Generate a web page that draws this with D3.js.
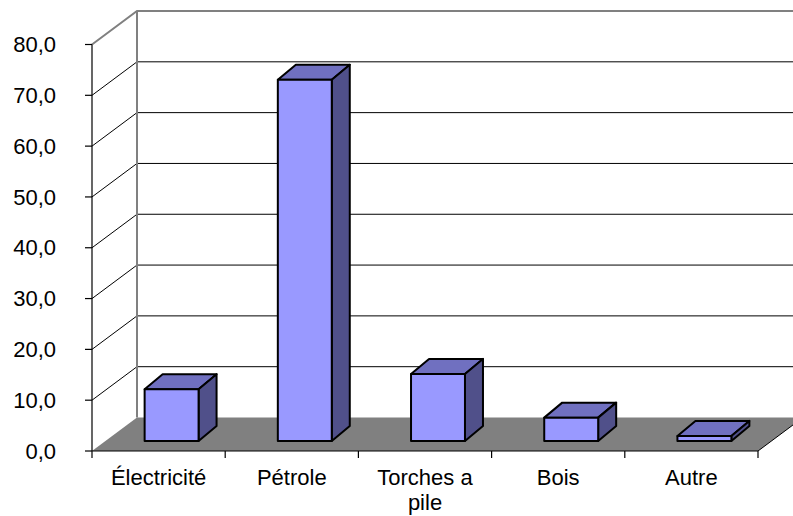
<!DOCTYPE html>
<html>
<head>
<meta charset="utf-8">
<script src="https://cdn.jsdelivr.net/npm/d3@7"></script>
<style>
  html, body { margin: 0; padding: 0; background: #fff; }
  svg { display: block; font-family: "Liberation Sans", Arial, sans-serif; }
</style>
</head>
<body>
<div id="chart"></div>
<script>
const categories = ['Électricité', 'Pétrole', 'Torches a pile', 'Bois', 'Autre'];
const labelLines = [['Électricité'], ['Pétrole'], ['Torches a', 'pile'], ['Bois'], ['Autre']];
const values = [10.2, 71.1, 13.2, 4.6, 1.0];
const yTicks = [0, 10, 20, 30, 40, 50, 60, 70, 80];

const W = 793, H = 516;
// 3D wall offset and bar depth
const depth = { dx: 45, dy: -33.5 };
const barFront = { dx: 13, dy: -10 };
const barDepth = { dx: 18, dy: -15 };

const svg = d3.select('#chart').append('svg')
  .attr('width', W).attr('height', H);

const y = d3.scaleLinear().domain([0, 80]).range([451, 44.5]);
const x = d3.scaleBand().domain(categories).range([92, 758])
  .paddingInner(0.595).paddingOuter(0.2975);

const x0 = 92, x1 = 758;
const bx0 = x0 + depth.dx, bx1 = x1 + depth.dx;

// back wall and side wall
svg.append('polygon')
  .attr('points', [[bx0, y(80) + depth.dy], [bx1, y(80) + depth.dy], [bx1, y(0) + depth.dy], [bx0, y(0) + depth.dy]].join(' '))
  .attr('fill', '#fff');

const grid = svg.append('g');
yTicks.filter(v => v > 0 && v < 80).forEach(v => {
  const yy = y(v);
  grid.append('line')
    .attr('x1', x0).attr('y1', yy).attr('x2', bx0).attr('y2', yy + depth.dy)
    .attr('stroke', '#000').attr('stroke-width', 1);
  grid.append('line')
    .attr('x1', bx0).attr('y1', yy + depth.dy).attr('x2', bx1).attr('y2', yy + depth.dy)
    .attr('stroke', '#000').attr('stroke-width', 1);
});

// wall edges (gray)
svg.append('path')
  .attr('d', `M${x0},${y(80)}L${bx0},${y(80) + depth.dy}L${bx1},${y(80) + depth.dy}`
    + `M${bx0},${y(80) + depth.dy}L${bx0},${y(0) + depth.dy}`)
  .attr('fill', 'none').attr('stroke', '#808080').attr('stroke-width', 2);

// floor
svg.append('polygon')
  .attr('points', [[x0, y(0)], [x1, y(0)], [bx1, y(0) + depth.dy], [bx0, y(0) + depth.dy]].join(' '))
  .attr('fill', '#808080');
svg.append('line')
  .attr('x1', x1).attr('y1', y(0)).attr('x2', bx1).attr('y2', y(0) + depth.dy)
  .attr('stroke', '#000').attr('stroke-width', 1);

// axes
const axes = svg.append('g').attr('stroke', '#000').attr('stroke-width', 1.2);
axes.append('line').attr('x1', x0).attr('y1', y(80)).attr('x2', x0).attr('y2', y(0));
axes.append('line').attr('x1', x0).attr('y1', y(0)).attr('x2', x1).attr('y2', y(0));
yTicks.forEach(v => {
  axes.append('line').attr('x1', x0 - 7).attr('x2', x0).attr('y1', y(v)).attr('y2', y(v));
});
const step = x.step();
d3.range(categories.length + 1).forEach(i => {
  const xx = x0 + i * step;
  axes.append('line').attr('x1', xx).attr('x2', xx).attr('y1', y(0)).attr('y2', y(0) + 7);
});

svg.append('g').selectAll('text').data(yTicks).join('text')
  .attr('x', 56).attr('y', d => y(d)).attr('dy', '0.35em')
  .attr('text-anchor', 'end').attr('font-size', 22).attr('fill', '#000')
  .text(d => d.toFixed(1).replace('.', ','));

const xl = svg.append('g').selectAll('text').data(categories).join('text')
  .attr('x', d => x(d) + x.bandwidth() / 2)
  .attr('y', 485)
  .attr('text-anchor', 'middle').attr('font-size', 22).attr('fill', '#000');
xl.each(function (d, i) {
  const t = d3.select(this);
  labelLines[i].forEach((ln, j) => {
    t.append('tspan').attr('x', x(d) + x.bandwidth() / 2).attr('dy', j === 0 ? 0 : 24.5).text(ln);
  });
});

// bars
const bars = svg.append('g').attr('stroke', '#000').attr('stroke-width', 2).attr('stroke-linejoin', 'round');
categories.forEach((c, i) => {
  const l = x(c) + barFront.dx, r = l + x.bandwidth();
  const b = y(0) + barFront.dy, t = y(values[i]) + barFront.dy;
  const ddx = barDepth.dx, ddy = barDepth.dy;
  const g = bars.append('g');
  g.append('polygon')
    .attr('points', [[l, t], [r, t], [r + ddx, t + ddy], [l + ddx, t + ddy]].join(' '))
    .attr('fill', '#7070C0');
  g.append('polygon')
    .attr('points', [[r, t], [r + ddx, t + ddy], [r + ddx, b + ddy], [r, b]].join(' '))
    .attr('fill', '#50508A');
  g.append('rect')
    .attr('x', l).attr('y', t).attr('width', r - l).attr('height', b - t)
    .attr('fill', '#9999FF');
});
</script>
</body>
</html>
